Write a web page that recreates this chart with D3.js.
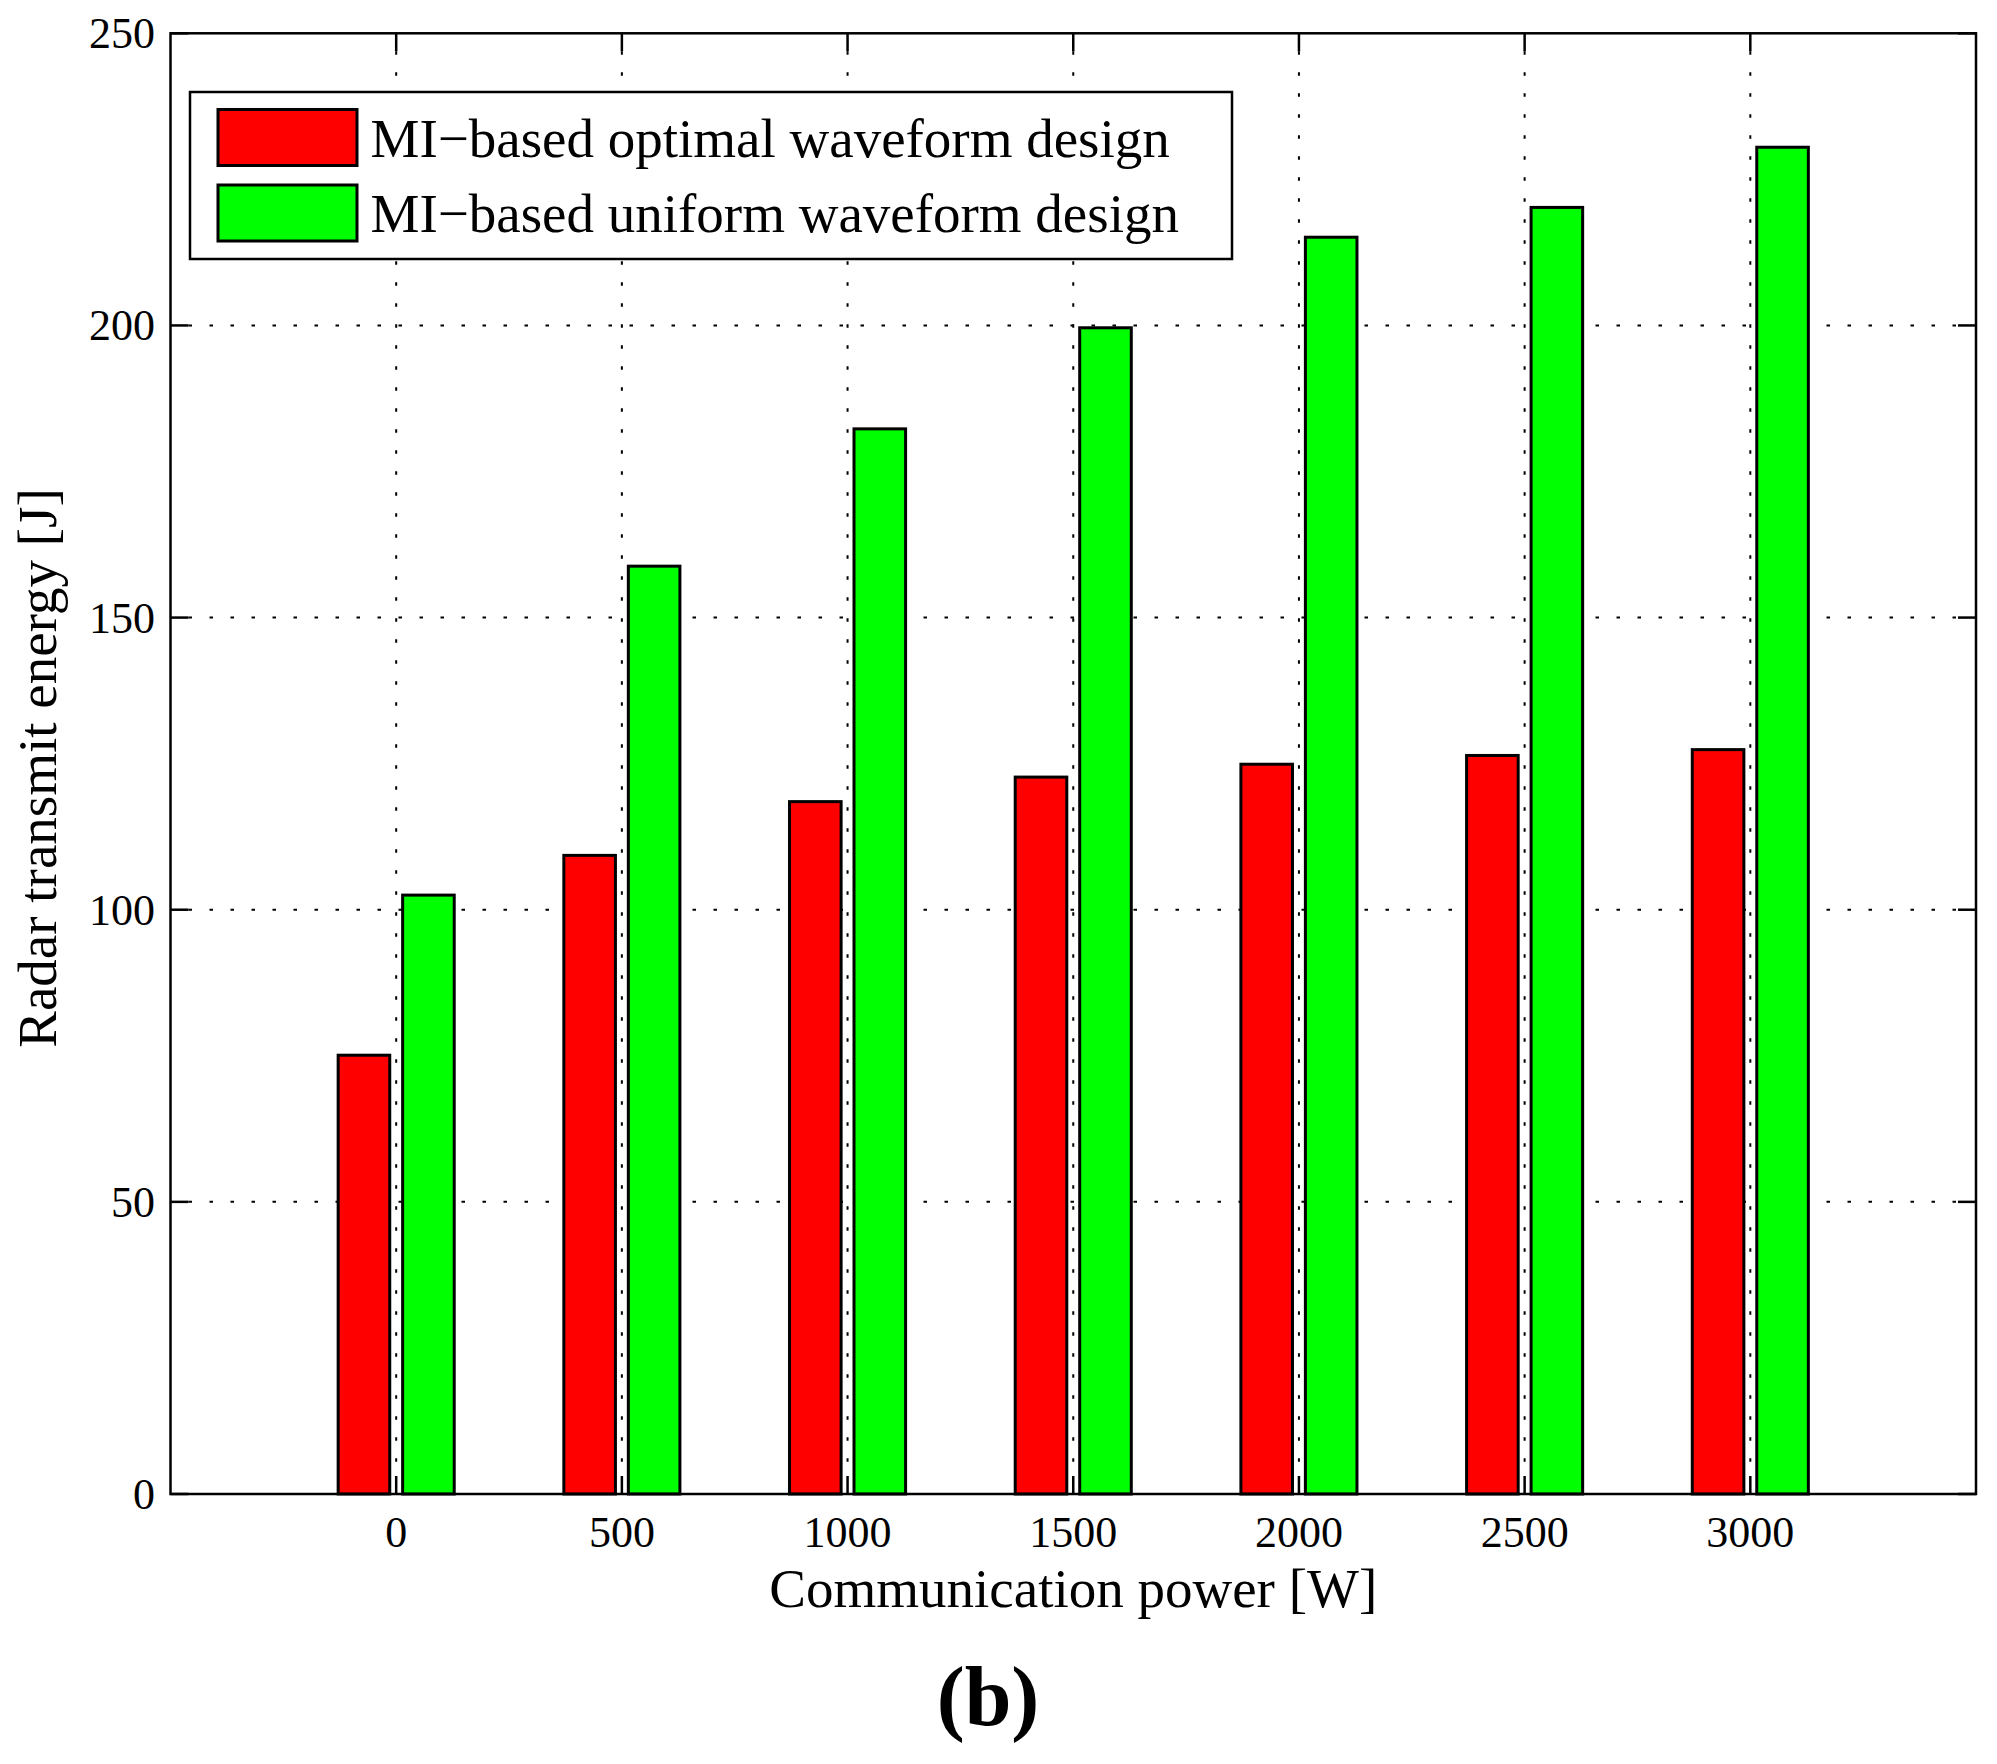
<!DOCTYPE html>
<meta charset="utf-8">
<style>
html, body {
  margin: 0;
  overflow: hidden;
  width: 100%;
  height: 100%;
  background: #fff;
}
svg text {
  font-family: "Liberation Serif", "Times New Roman", serif;
  fill: #000;
}
</style>
<title>Radar transmit energy vs communication power</title>
<body>
<script src="https://d3js.org/d3.v7.min.js"></script>
<script>
// data
var powers = [0, 500, 1000, 1500, 2000, 2500, 3000];
var optimal = [75.1, 109.3, 118.5, 122.7, 124.9, 126.4, 127.4];
var uniform = [102.5, 158.8, 182.3, 199.6, 215.1, 220.2, 230.5];
var seriesNames = ["MI\u2212based optimal waveform design", "MI\u2212based uniform waveform design"];
var seriesColors = ["#ff0000", "#00ff00"];
var xTicks = [0, 500, 1000, 1500, 2000, 2500, 3000];
var yTicks = [0, 50, 100, 150, 200, 250];

var width = 1997,
    height = 1764,
    plotL = 170.5,
    plotR = 1976,
    plotT = 33.3,
    plotB = 1494,
    tickLen = 18;

var svg = d3.select("body").append("svg")
    .attr("width", width)
    .attr("height", height);

var x = d3.scaleLinear().domain([-500, 3500]).range([plotL, plotR]);
var y = d3.scaleLinear().domain([0, 250]).range([plotB, plotT]);

// matlab grouped bar geometry (in data units)
var groupW = 500 * 2 / 3.5,
    barW = groupW / 2 * 0.8,
    offsets = [-groupW / 4, groupW / 4];

// grid
var grid = svg.append("g")
    .attr("stroke", "#000")
    .attr("stroke-width", 2)
    .attr("stroke-dasharray", "3.5,17.5");

grid.selectAll(".vg").data(xTicks).enter().append("line")
    .attr("x1", function(d) { return x(d); })
    .attr("x2", function(d) { return x(d); })
    .attr("y1", plotT + tickLen)
    .attr("y2", plotB - tickLen);

grid.selectAll(".hg").data(yTicks.filter(function(d) { return d > 0 && d < 250; })).enter().append("line")
    .attr("x1", plotL + tickLen)
    .attr("x2", plotR - tickLen)
    .attr("y1", function(d) { return y(d); })
    .attr("y2", function(d) { return y(d); });

// inward ticks on all four sides
var ticks = svg.append("g").attr("stroke", "#000").attr("stroke-width", 2.5);
xTicks.forEach(function(d) {
  ticks.append("line").attr("x1", x(d)).attr("x2", x(d)).attr("y1", plotB).attr("y2", plotB - tickLen);
  ticks.append("line").attr("x1", x(d)).attr("x2", x(d)).attr("y1", plotT).attr("y2", plotT + tickLen);
});
yTicks.forEach(function(d) {
  ticks.append("line").attr("x1", plotL).attr("x2", plotL + tickLen).attr("y1", y(d)).attr("y2", y(d));
  ticks.append("line").attr("x1", plotR).attr("x2", plotR - tickLen).attr("y1", y(d)).attr("y2", y(d));
});

// bars
[optimal, uniform].forEach(function(vals, s) {
  svg.append("g").selectAll("rect").data(vals).enter().append("rect")
    .attr("x", function(d, i) { return x(powers[i] + offsets[s] - barW / 2); })
    .attr("width", x(barW) - x(0))
    .attr("y", function(d) { return y(d); })
    .attr("height", function(d) { return y(0) - y(d); })
    .attr("fill", seriesColors[s])
    .attr("stroke", "#000")
    .attr("stroke-width", 3);
});

// frame
svg.append("rect")
    .attr("x", plotL).attr("y", plotT)
    .attr("width", plotR - plotL).attr("height", plotB - plotT)
    .attr("fill", "none")
    .attr("stroke", "#000")
    .attr("stroke-width", 2.5);

// tick labels
svg.append("g").selectAll("text").data(xTicks).enter().append("text")
    .attr("x", function(d) { return x(d); })
    .attr("y", 1547)
    .attr("text-anchor", "middle")
    .style("font-size", "44px")
    .text(function(d) { return d; });

svg.append("g").selectAll("text").data(yTicks).enter().append("text")
    .attr("x", 155)
    .attr("y", function(d) { return y(d) + 15; })
    .attr("text-anchor", "end")
    .style("font-size", "44px")
    .text(function(d) { return d; });

// axis titles
svg.append("text")
    .attr("x", (plotL + plotR) / 2)
    .attr("y", 1607)
    .attr("text-anchor", "middle")
    .style("font-size", "55px")
    .text("Communication power [W]");

svg.append("text")
    .attr("transform", "translate(56," + 768 + ") rotate(-90)")
    .attr("text-anchor", "middle")
    .style("font-size", "55px")
    .text("Radar transmit energy [J]");

svg.append("text")
    .attr("x", 988)
    .attr("y", 1725)
    .attr("text-anchor", "middle")
    .style("font-size", "84px")
    .style("font-weight", "bold")
    .text("(b)");

// legend
var legend = svg.append("g");
legend.append("rect")
    .attr("x", 190).attr("y", 92)
    .attr("width", 1042).attr("height", 167)
    .attr("fill", "#fff")
    .attr("stroke", "#000")
    .attr("stroke-width", 2.5);

seriesNames.forEach(function(name, i) {
  var cy = 137.5 + i * 75.5;
  legend.append("rect")
    .attr("x", 218).attr("y", cy - 28)
    .attr("width", 139).attr("height", 56)
    .attr("fill", seriesColors[i])
    .attr("stroke", "#000")
    .attr("stroke-width", 3);
  legend.append("text")
    .attr("x", 370.5)
    .attr("y", cy + 19)
    .style("font-size", "55px")
    .text(name);
});
</script>
</body>
